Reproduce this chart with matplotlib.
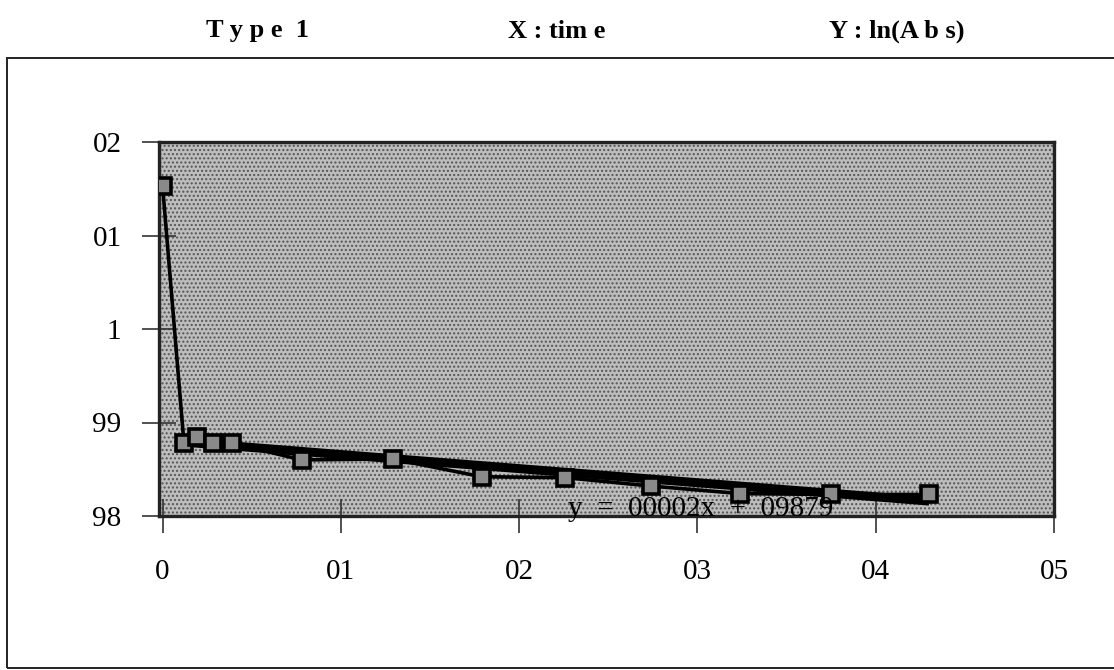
import matplotlib

matplotlib.use("Agg")
import matplotlib.pyplot as plt
from matplotlib.patches import Rectangle

# data
time = [0.0, 1.2, 1.95, 2.85, 3.9, 7.8, 12.9, 17.9, 22.6, 27.4, 32.4, 37.5, 43.0]
ln_abs = [1.0153, 0.9878, 0.9885, 0.9878, 0.9878, 0.9860, 0.9861,
          0.9842, 0.9841, 0.9832, 0.9824, 0.9823, 0.9823]
trend_x = [1.2, 43.0]
trend_y = [0.9879, 0.9816]

x_ticks = [0, 10, 20, 30, 40, 50]
x_labels = ["0", "01", "02", "03", "04", "05"]
y_ticks = [0.98, 0.99, 1.00, 1.01, 1.02]
y_labels = ["98", "99", "1", "01", "02"]
equation = "y  =  00002x  +  09879"
titles = ["T y p e  1", "X : tim e", "Y : ln(A b s)"]

plt.rcParams["font.family"] = ["Liberation Serif", "DejaVu Serif"]

fig = plt.figure(figsize=(11.14, 6.70), dpi=100)
fig.patch.set_facecolor("white")

# outer frame of the scanned page
fig.add_artist(Rectangle((7 / 1114, 2 / 670), 1.2, 610 / 670,
                         transform=fig.transFigure, fill=False,
                         edgecolor="#222222", linewidth=1.4))

for txt, xc in zip(titles, [257, 557, 897]):
    fig.text(xc / 1114, 1 - 31 / 670, txt, ha="center", va="center",
             fontsize=19, fontweight="bold")

ax = fig.add_axes([159 / 1114, 1 - 516 / 670, 895 / 1114, 374 / 670])
ax.set_facecolor("#bdbdbd")
ax.add_patch(Rectangle((0, 0), 1, 1, transform=ax.transAxes, facecolor="none",
                       edgecolor="#555555", hatch="....", linewidth=0, zorder=0.5))

ax.plot(trend_x, trend_y, color="black", linewidth=6.5, solid_capstyle="butt", zorder=2)
ax.plot(time, ln_abs, color="black", linewidth=2.6, marker="s", markersize=12,
        markerfacecolor="#8a8a8a", markeredgecolor="black", markeredgewidth=2.6,
        zorder=3)

ax.text(30.2, 0.9808, equation, ha="center", va="center", fontsize=21, zorder=4)

ax.set_xlim(-0.2, 50)
ax.set_ylim(0.98, 1.02)
ax.set_xticks(x_ticks)
ax.set_xticklabels(x_labels)
ax.set_yticks(y_ticks)
ax.set_yticklabels(y_labels)
ax.tick_params(axis="both", direction="inout", length=24, width=1.2,
               labelsize=21, color="#333333")
ax.tick_params(axis="x", pad=19)
ax.tick_params(axis="y", pad=15)
for side, sp in ax.spines.items():
    sp.set_linewidth(2.4)
    sp.set_color("#222222")

fig.savefig("out.png", dpi=100)
